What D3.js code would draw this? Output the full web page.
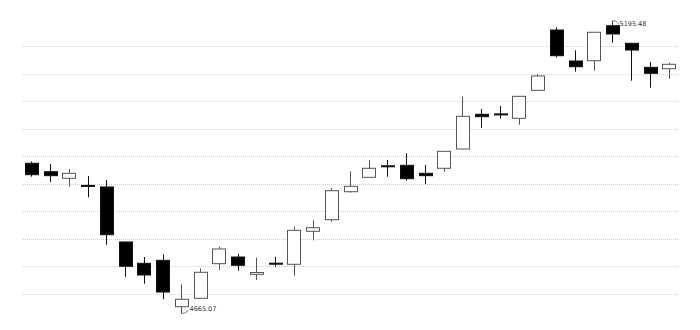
<!DOCTYPE html>
<html>
<head>
<meta charset="utf-8">
<script src="https://cdn.jsdelivr.net/npm/d3@7"></script>
<style>
  body { margin: 0; background: #fff; }
  svg { display: block; }
</style>
</head>
<body>
<div id="chart"></div>
<script>
// open, close, low, high per day
var opens  = [4937.2, 4921.9, 4909.9, 4897.0, 4894.2, 4794.4, 4755.7, 4761.1, 4677.0, 4692.2,
              4755.0, 4767.1, 4735.7, 4755.9, 4753.9, 4813.8, 4834.8, 4885.6, 4911.7, 4932.6,
              4933.5, 4919.0, 4928.1, 4963.1, 5026.1, 5026.8, 5018.8, 5069.6, 5179.0, 5122.8,
              5123.3, 5186.8, 5154.9, 5111.3, 5108.8];
var closes = [4916.5, 4914.7, 4919.0, 4896.3, 4807.6, 4750.3, 4734.5, 4703.6, 4690.4, 4739.4,
              4781.7, 4752.1, 4739.0, 4755.5, 4815.6, 4820.3, 4887.4, 4895.4, 4928.1, 4932.0,
              4909.2, 4914.7, 4958.9, 5022.4, 5021.7, 5026.4, 5058.7, 5095.6, 5132.4, 5112.4,
              5174.9, 5171.8, 5142.7, 5100.5, 5116.8];
var lows   = [4912.8, 4903.2, 4894.7, 4875.5, 4789.5, 4731.4, 4718.7, 4690.4, 4665.07, 4691.8,
              4743.5, 4742.3, 4725.4, 4749.5, 4733.2, 4797.4, 4831.2, 4883.8, 4911.5, 4912.8,
              4905.6, 4899.1, 4921.9, 4962.8, 5001.2, 5018.1, 5007.2, 5069.4, 5128.8, 5103.4,
              5105.2, 5156.0, 5087.0, 5074.3, 5090.6];
var highs  = [4940.4, 4935.9, 4926.8, 4914.1, 4906.9, 4795.0, 4767.1, 4772.0, 4717.6, 4746.6,
              4785.8, 4772.6, 4765.9, 4767.7, 4822.1, 4833.7, 4892.3, 4922.6, 4943.1, 4943.1,
              4955.3, 4934.1, 4959.5, 5058.0, 5035.7, 5041.1, 5059.1, 5099.2, 5183.9, 5142.2,
              5175.3, 5195.48, 5155.5, 5121.0, 5119.7];
var gridValues = [4700, 4750, 4800, 4850, 4900, 4950, 5000, 5050, 5100, 5150];

var width = 700, height = 330;

var svg = d3.select("#chart")
  .append("svg")
  .attr("width", width)
  .attr("height", height);

var x = d3.scaleBand()
  .domain(d3.range(opens.length))
  .range([22, 678])
  .paddingInner(0.33)
  .paddingOuter(0.16);

var y = d3.scaleLinear()
  .domain([4700, 5150])
  .range([294, 46]);

// dotted grid
svg.append("g")
  .selectAll("line")
  .data(gridValues)
  .enter().append("line")
  .attr("x1", 23)
  .attr("x2", 678)
  .attr("y1", function(d) { return Math.round(y(d)) + 0.5; })
  .attr("y2", function(d) { return Math.round(y(d)) + 0.5; })
  .attr("stroke", "#cfcfcf")
  .attr("stroke-dasharray", "1,1");

var candles = svg.append("g")
  .selectAll("g")
  .data(opens.map(function(o, i) {
    return { o: o, c: closes[i], l: lows[i], h: highs[i], i: i };
  }))
  .enter().append("g");

function cx(d) { return Math.round(x(d.i) + x.bandwidth() / 2) + 0.5; }
function isUp(d) { return d.c > d.o; }

candles.append("line")
  .attr("x1", cx)
  .attr("x2", cx)
  .attr("y1", function(d) { return y(d.h); })
  .attr("y2", function(d) { return y(d.l); })
  .attr("stroke", function(d) { return isUp(d) ? "#555" : "#111"; });

candles.append("rect")
  .attr("x", function(d) { return Math.round(x(d.i)) + 0.5; })
  .attr("width", Math.round(x.bandwidth()))
  .attr("y", function(d) { return y(Math.max(d.o, d.c)); })
  .attr("height", function(d) { return Math.max(1, Math.abs(y(d.o) - y(d.c))); })
  .attr("fill", function(d) { return isUp(d) ? "#fff" : "#000"; })
  .attr("stroke", function(d) { return isUp(d) ? "#555" : "#111"; });

// max / min markers
var maxIndex = d3.maxIndex(highs), minIndex = d3.minIndex(lows);

var mx = Math.round(x(maxIndex) + x.bandwidth() / 2) + 0.5, my = y(highs[maxIndex]);
svg.append("path")
  .attr("d", "M" + mx + "," + (my + 3) + "V" + my + "H" + (mx + 3) + "L" + (mx + 6) + "," + (my + 3))
  .attr("fill", "none")
  .attr("stroke", "#555")
  .attr("stroke-width", 0.8);
svg.append("text")
  .attr("x", mx + 7)
  .attr("y", my + 5)
  .attr("font-family", "DejaVu Sans, sans-serif")
  .attr("font-size", 6.5)
  .attr("fill", "#333")
  .text(d3.format(".2f")(highs[maxIndex]));

var nx = Math.round(x(minIndex) + x.bandwidth() / 2) + 0.5, ny = y(lows[minIndex]);
svg.append("path")
  .attr("d", "M" + nx + "," + (ny - 3) + "V" + ny + "H" + (nx + 3) + "L" + (nx + 7) + "," + (ny - 3))
  .attr("fill", "none")
  .attr("stroke", "#555")
  .attr("stroke-width", 0.8);
svg.append("text")
  .attr("x", nx + 8)
  .attr("y", ny - 2)
  .attr("font-family", "DejaVu Sans, sans-serif")
  .attr("font-size", 6.5)
  .attr("fill", "#333")
  .text(d3.format(".2f")(lows[minIndex]));
</script>
</body>
</html>
